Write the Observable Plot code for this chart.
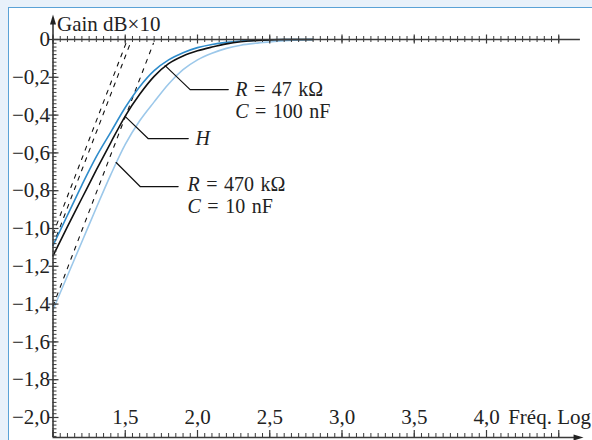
<!DOCTYPE html>
<html><head><meta charset="utf-8">
<script src="https://cdn.jsdelivr.net/npm/d3@7"></script>
<script src="https://cdn.jsdelivr.net/npm/@observablehq/plot@0.6"></script>
<style>
html,body{margin:0;padding:0;background:#e8f1fa;}
#wrap{position:relative;width:592px;height:440px;background:#e8f1fa;overflow:hidden}
#panel{position:absolute;left:8px;top:7px;right:0;bottom:0;background:#fff;border-left:1.5px solid #5aa2d6;border-top:1.5px solid #5aa2d6;}
#chart{position:absolute;left:0;top:0}
#chart svg text{font-family:"Liberation Serif","Times New Roman",serif !important;}
</style></head><body>
<div id="wrap"><div id="panel"></div><div id="chart"></div></div>
<script>
// ---- data ----
const freq      = [1.0, 1.1, 1.2, 1.3, 1.4, 1.5, 1.6, 1.7, 1.8, 1.9, 2.0, 2.1, 2.2, 2.3, 2.4, 2.5, 2.6, 2.7, 2.8];
const gainBlue  = [-1.09, -0.93, -0.77, -0.62, -0.49, -0.36, -0.25, -0.165, -0.108, -0.07, -0.043, -0.026, -0.015, -0.008, -0.004, -0.001, 0, 0, 0];
const gainH     = [-1.145, -0.99, -0.84, -0.69, -0.545, -0.405, -0.29, -0.195, -0.128, -0.087, -0.06, -0.04, -0.023, -0.012, -0.006, -0.002, 0, 0, 0];
const gainLight = [-1.43, -1.25, -1.07, -0.89, -0.715, -0.555, -0.43, -0.33, -0.235, -0.16, -0.108, -0.073, -0.047, -0.03, -0.02, -0.013, -0.007, -0.003, 0];

// asymptotes (dashed)
const asymAx = [1.0, 1.505], asymAy = [-1.03, -0.02];
const asymBx = [1.0, 1.535], asymBy = [-1.09, -0.02];
const asymCx = [1.0, 1.695], asymCy = [-1.41, -0.02];

// ticks
const yTickValues = [0, -0.2, -0.4, -0.6, -0.8, -1.0, -1.2, -1.4, -1.6, -1.8, -2.0];
const yTickLabels = ["0", "−0,2", "−0,4", "−0,6", "−0,8", "−1,0", "−1,2", "−1,4", "−1,6", "−1,8", "−2,0"];
const xTickValues = [1.5, 2.0, 2.5, 3.0, 3.5, 4.0];
const xTickLabels = ["1,5", "2,0", "2,5", "3,0", "3,5", "4,0"];
const xMinor = d3.range(0, 71).map(i => +(1 + i * 0.05).toFixed(2));
const xMajor = d3.range(0, 8).map(i => 1 + i * 0.5);
const yMinor = d3.range(0, 106).map(i => -i * 0.02);

// annotations
const leader47x = [1.776, 1.949, 2.213],  leader47y = [-0.138, -0.265, -0.265];
const leaderHx  = [1.499, 1.658, 1.936],  leaderHy  = [-0.407, -0.524, -0.524];
const leader470x = [1.437, 1.603, 1.866], leader470y = [-0.651, -0.778, -0.778];
const annText = ["R = 47 kΩ\nC = 100 nF", "H", "R = 470 kΩ\nC = 10 nF"];
const annX    = [2.261, 1.986, 1.931];
const annY    = [-0.3185, -0.524, -0.821];

// ---- layout helpers ----
const W = 592, H = 440;
const pxX = 144.5, pxY = 189;          // pixels per unit
const x0 = 1 - 52.5 / pxX, x1 = 1 + (W - 52.5) / pxX;
const yTop = 39 / pxY, yBot = -(H - 39) / pxY;
const yAxisBottom = -(437 - 39) / pxY;
const ux = p => p / pxX, uy = p => p / pxY;

const AX = "#3a3a3a";
const FONT = "Liberation Serif";
const FS = 21;
const T = {fontSize: FS, fontFamily: FONT, fill: "#222"};
const TA = {fontSize: 20, fontFamily: FONT, fill: "#222", textAnchor: "start"};

const arrowUp = {draw(c){ c.moveTo(0,-6); c.lineTo(3,4); c.lineTo(-3,4); c.closePath(); }};
const arrowRight = {draw(c){ c.moveTo(6,0); c.lineTo(-4,-3); c.lineTo(-4,3); c.closePath(); }};

const chart = Plot.plot({
  width: W, height: H,
  margin: 0,
  x: {domain: [x0, x1], axis: null},
  y: {domain: [yBot, yTop], axis: null},
  style: {background: "transparent", fontFamily: FONT, color: "#222", overflow: "visible"},
  marks: [
    // dashed asymptotes
    Plot.line(asymAx, {x: asymAx, y: asymAy, stroke: "#111", strokeWidth: 1.1, strokeDasharray: "4,6"}),
    Plot.line(asymBx, {x: asymBx, y: asymBy, stroke: "#111", strokeWidth: 1.1, strokeDasharray: "4,6"}),
    Plot.line(asymCx, {x: asymCx, y: asymCy, stroke: "#111", strokeWidth: 1.1, strokeDasharray: "4,6"}),
    // curves
    Plot.line(freq, {x: freq, y: gainLight, stroke: "#9cc8ea", strokeWidth: 1.6, curve: "monotone-x"}),
    Plot.line(freq, {x: freq, y: gainBlue, stroke: "#2f8ccb", strokeWidth: 1.6, curve: "monotone-x"}),
    Plot.line(freq, {x: freq, y: gainH, stroke: "#111", strokeWidth: 1.6, curve: "monotone-x"}),
    // top axis at y = 0
    Plot.ruleY([0], {x1: 1.0, x2: 4.65, stroke: AX, strokeWidth: 1.3}),
    Plot.ruleX(xMinor, {x: d => d, y1: -uy(3), y2: uy(3), stroke: AX, strokeWidth: 1}),
    Plot.ruleX(xMajor, {x: d => d, y1: -uy(4.5), y2: uy(4.5), stroke: AX, strokeWidth: 1.2}),
    // bottom axis
    Plot.ruleY([yAxisBottom], {x1: 1.0, x2: 4.63, stroke: AX, strokeWidth: 1.3}),
    Plot.ruleX(xMinor, {x: d => d, y1: yAxisBottom, y2: yAxisBottom + uy(4), stroke: AX, strokeWidth: 1}),
    Plot.ruleX(xMajor, {x: d => d, y1: yAxisBottom, y2: yAxisBottom + uy(7), stroke: AX, strokeWidth: 1.2}),
    Plot.dot([4.63], {x: d => d, y: yAxisBottom, symbol: arrowRight, fill: "#222", stroke: "none", r: 4}),
    // y axis
    Plot.ruleX([1.0], {y1: yAxisBottom, y2: uy(20), stroke: AX, strokeWidth: 1.6}),
    Plot.ruleY(yMinor, {y: d => d, x1: 1.0, x2: 1.0 + ux(4), stroke: AX, strokeWidth: 1}),
    Plot.ruleY(yTickValues, {y: d => d, x1: 1.0 - ux(4), x2: 1.0 + ux(6), stroke: AX, strokeWidth: 1.2}),
    Plot.dot([1.0], {x: d => d, y: uy(19), symbol: arrowUp, fill: "#222", stroke: "none", r: 4}),
    // tick labels
    Plot.text(yTickValues, {x: 1.0, y: d => d, text: (d, i) => yTickLabels[i], textAnchor: "end", dx: -3, ...T}),
    Plot.text(xTickValues, {x: d => d, y: -2.0, text: (d, i) => xTickLabels[i], textAnchor: "middle", ...T}),
    Plot.text(["Fréq. Log"], {x: 4.15, y: -2.0, text: d => d, textAnchor: "start", ...T}),
    Plot.text(["Gain dB×10"], {x: 1.028, y: uy(15), text: d => d, textAnchor: "start", ...T}),
    // leaders
    Plot.line(leader47x, {x: leader47x, y: leader47y, stroke: "#111", strokeWidth: 1.2}),
    Plot.line(leaderHx, {x: leaderHx, y: leaderHy, stroke: "#111", strokeWidth: 1.2}),
    Plot.line(leader470x, {x: leader470x, y: leader470y, stroke: "#111", strokeWidth: 1.2}),
    // annotation texts (two-line labels drawn as one text each)
    Plot.text([0], {x: annX[1], y: annY[1], text: [annText[1]], ...TA}),
    Plot.text([0], {x: annX[0], y: annY[0], text: [annText[0]], lineAnchor: "middle", lineHeight: 1.12, ...TA}),
    Plot.text([0], {x: annX[2], y: annY[2], text: [annText[2]], lineAnchor: "middle", lineHeight: 1.12, ...TA})
  ]
});
// italicise the physical symbols (R, C, H) at the start of each annotation line
const annLines = annText.flatMap(s => s.split("\n"));
d3.select(chart).selectAll("text, tspan").each(function() {
  if (this.children.length) return;
  const s = this.textContent;
  if (annLines.includes(s)) {
    const sel = d3.select(this);
    sel.text(null);
    sel.append("tspan").attr("font-style", "italic").text(s[0]);
    if (s.length > 1) sel.append("tspan").attr("word-spacing", "1.5px").text(s.slice(1));
  }
});
document.getElementById("chart").appendChild(chart);
</script>
</body></html>
